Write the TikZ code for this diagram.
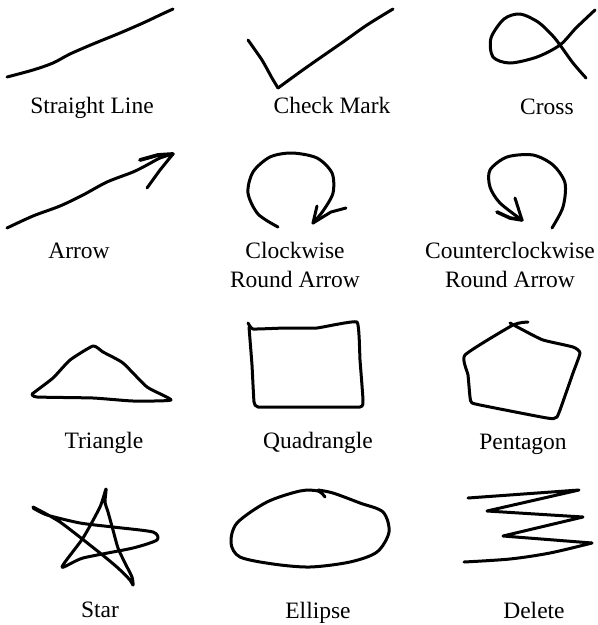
\documentclass[tikz,border=0pt]{standalone}
\usepackage{fontspec}
\setmainfont{Liberation Serif}
\usepackage{xcolor}
\definecolor{inkblack}{RGB}{0, 0, 0}

\begin{document}
\begin{tikzpicture}[x=1pt, y=-1pt,
                    stroke/.style={draw=inkblack, line width=3pt, line cap=round, line join=round},
                    caption/.style={anchor=base, font=\fontsize{23.5}{29}\selectfont, align=center, inner sep=0pt}]

    \useasboundingbox (0,0) rectangle (598,625);

    % ==========================================================
    % fila 1: linea, marca, cruz
    % ==========================================================

    % linea recta
    \draw[stroke] plot[smooth] coordinates {(7,77) (33,70) (53,63) (70,54) (93,44)
        (120,33) (143,23) (160,15) (173,9)};

    % marca de verificacion
    \draw[stroke] plot[smooth, tension=0.3] coordinates {(248,40) (262,60) (272,78) (278,88)};
    \draw[stroke] plot[smooth] coordinates {(278,88) (300,72) (317,60) (343,42) (367,25) (393,9)};

    % cruz con bucle
    \draw[stroke] plot[smooth] coordinates {(595,10) (576,28) (560,45) (537,57) (510,63)
        (493,57) (491,38) (504,19) (520,14) (538,22) (552,35) (560,45) (573,63) (586,78)};

    % ==========================================================
    % fila 2: flechas
    % ==========================================================

    % flecha
    \draw[stroke] plot[smooth] coordinates {(7,228) (33,216) (60,206) (83,195) (107,182)
        (133,172) (147,165) (160,158) (173,154)};
    \draw[stroke, line width=3.8pt] (140,160) -- (158,155) -- (173,154);
    \draw[stroke] (173,154) -- (160,170) -- (147,188);

    % flecha circular horaria
    \draw[stroke] plot[smooth] coordinates {(278,227) (258,214) (248,193) (253,172)
        (270,157) (292,153) (317,158) (332,173) (333,193) (323,211) (313,223)};
    \draw[stroke] (317,206) -- (313,223);
    \draw[stroke] (313,223) -- (331,212) -- (346,208);

    % flecha circular antihoraria
    \draw[stroke] plot[smooth] coordinates {(552,228) (563,207) (565,183) (553,165)
        (533,155) (507,157) (490,170) (490,187) (500,203) (522,220)};
    \draw[stroke] (515,198) -- (522,220);
    \draw[stroke, line width=3.6pt] (497,212) -- (510,218) -- (522,220);

    % ==========================================================
    % fila 3: poligonos
    % ==========================================================

    % triangulo
    \draw[stroke] plot[smooth, tension=0.3] coordinates {(32,394) (53,378) (70,360) (93,346)
        (103,352) (123,363) (147,387) (171,400) (133,401) (93,398) (37,397) (32,394)};

    % cuadrilatero
    \draw[stroke] plot[smooth, tension=0.2] coordinates {(248,323) (253,329) (285,328) (317,328)
        (357,322) (360,360) (363,400) (360,407) (300,407) (258,407) (254,402) (252,365) (249,327)};

    % pentagono
    \draw[stroke] plot[smooth, tension=0.3] coordinates {(528,322) (513,325) (465,355) (468,375)
        (470,397) (472,403) (490,407) (547,418) (557,417) (566,393) (573,373) (580,353) (573,347)
        (543,340) (523,330) (510,323)};

    % ==========================================================
    % fila 4: estrella, elipse, borrar
    % ==========================================================

    % estrella
    \draw[stroke] plot[smooth, tension=0.4] coordinates {(33,507) (60,522) (100,553) (118,568)
        (130,580) (133,585) (132,577) (125,563) (118,548) (113,530) (108,512) (105,502) (106,489)
        (100,507) (83,538) (62,567) (83,558) (133,548) (157,540) (153,532) (113,527) (80,523)
        (47,515) (33,508)};

    % elipse
    \draw[stroke] plot[smooth] coordinates {(325,497) (318,491) (300,491) (267,502) (237,523)
        (231,543) (240,557) (273,564) (310,567) (350,562) (377,552) (389,532) (383,512)
        (360,503) (333,493) (318,490)};

    % borrar
    \draw[stroke] (468,498) -- (579,490) -- (487,511) -- (583,517) -- (503,536) -- (592,543);
    \draw[stroke] plot[smooth] coordinates {(592,543) (550,553) (510,559) (464,562)};

    % ==========================================================
    % rotulos
    % ==========================================================
    \foreach \x/\y/\n/\t in {92/113/line/{Straight Line}, 332/113/check/{Check Mark},
                             547/114/cross/{Cross}, 79/258/arrow/{Arrow},
                             104/448/tri/{Triangle}, 318/448/quad/{Quadrangle},
                             523/449/penta/{Pentagon}, 100/617/star/{Star},
                             318/618/ellipse/{Ellipse}, 534/618/delete/{Delete}} {
        \node[caption] (lbl-\n) at (\x,\y) {\t};
    }
    \node[caption] (lbl-cw) at (295,287) {Clockwise\\Round Arrow};
    \node[caption] (lbl-ccw) at (510,287) {Counterclockwise\\Round Arrow};

\end{tikzpicture}
\end{document}
